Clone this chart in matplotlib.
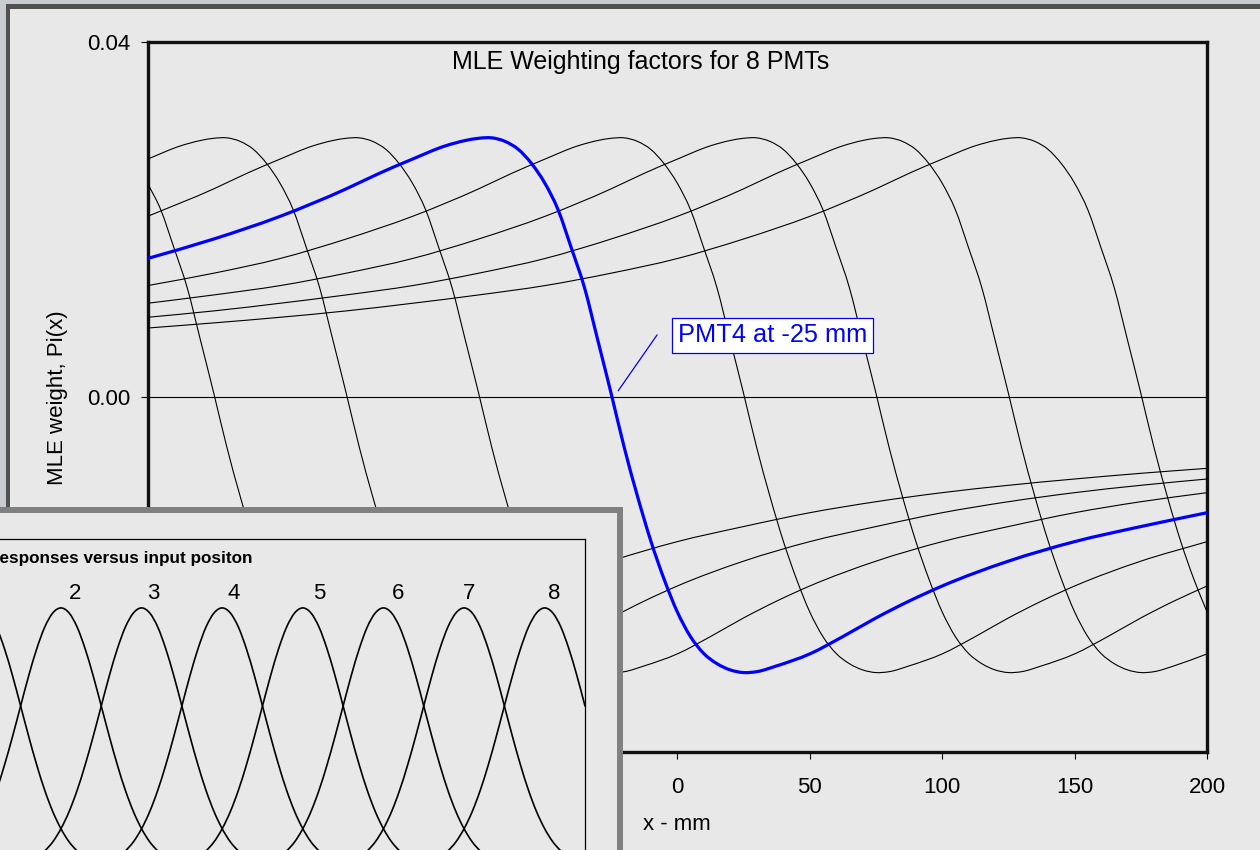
import matplotlib
matplotlib.use("Agg")
import matplotlib.pyplot as plt
from matplotlib.patches import Rectangle, PathPatch
from matplotlib.path import Path
import numpy as np

plt.rcParams["font.family"] = ["Liberation Sans", "DejaVu Sans"]

# PMT centre positions along the bar (mm)
pmt_centres = [-175, -125, -75, -25, 25, 75, 125, 175]
highlight = 3  # PMT4, drawn in blue

# MLE weight P(x - centre)
weight_offset = [-375, -350, -325, -300, -275, -250, -225, -200, -175, -150,
                 -125, -100, -87.5, -75, -62.5, -55, -50, -45, -40, -35,
                 -30, -25, -20, -15, -10, -5, 0, 5, 10, 15,
                 20, 25, 30, 35, 40, 45, 50, 55, 62.5, 75,
                 87.5, 100, 112.5, 125, 150, 175, 200, 225, 250, 275,
                 300, 325, 350, 375]
weight_value = [0.00777, 0.00835, 0.00898, 0.00970, 0.01056, 0.01150, 0.01255, 0.01395, 0.01560, 0.01780,
                0.02035, 0.02345, 0.02520, 0.02680, 0.02830, 0.02890, 0.02915, 0.02920, 0.02880, 0.02790,
                0.02630, 0.02410, 0.02110, 0.01680, 0.01230, 0.00640, 0.00045, -0.00570, -0.01120, -0.01620,
                -0.02050, -0.02420, -0.02700, -0.02890, -0.03005, -0.03075, -0.03105, -0.03095, -0.03030, -0.02895,
                -0.02700, -0.02490, -0.02300, -0.02130, -0.01850, -0.01630, -0.01460, -0.01304, -0.01180, -0.01078,
                -0.00995, -0.00924, -0.00860, -0.00804]

# single PMT response versus offset from its centre (relative units)
resp_offset = list(range(-100, 105, 5))
resp_value = [0.0005, 0.001, 0.002, 0.004, 0.008, 0.014, 0.025, 0.041, 0.066, 0.101,
              0.151, 0.216, 0.298, 0.396, 0.506, 0.623, 0.739, 0.843, 0.927, 0.981,
              1.0,
              0.981, 0.927, 0.843, 0.739, 0.623, 0.506, 0.396, 0.298, 0.216, 0.151,
              0.101, 0.066, 0.041, 0.025, 0.014, 0.008, 0.004, 0.002, 0.001, 0.0005]

resp_labels = ["2", "3", "4", "5", "6", "7", "8"]
resp_label_x = [-116, -68, -18, 35, 84, 128, 181]
resp_label_y = 1.054

x_ticks = [-200, -150, -100, -50, 0, 50, 100, 150, 200]
y_ticks = [-0.04, 0.0, 0.04]

W, H = 1260, 850
BG = "#e8e8e8"


def px_axes(left, top, right, bottom):
    return [left / W, 1 - bottom / H, (right - left) / W, (bottom - top) / H]


def smooth_line(ax, x, y, **kw):
    # Excel-style smoothed line: cubic Hermite segments through the points
    x = np.asarray(x, float)
    y = np.asarray(y, float)
    m = np.gradient(y, x)
    verts = [(x[0], y[0])]
    codes = [Path.MOVETO]
    for i in range(len(x) - 1):
        h = x[i + 1] - x[i]
        verts += [(x[i] + h / 3, y[i] + m[i] * h / 3),
                  (x[i + 1] - h / 3, y[i + 1] - m[i + 1] * h / 3),
                  (x[i + 1], y[i + 1])]
        codes += [Path.CURVE4] * 3
    ax.add_patch(PathPatch(Path(verts, codes), fill=False, capstyle="round",
                           joinstyle="round", **kw))


fig = plt.figure(figsize=(W / 100, H / 100), dpi=100, facecolor=BG)

# window frame strips along top and left
for r in [Rectangle((0, 1 - 4 / H), 1, 4 / H, color="#c8ccd0"),
          Rectangle((0, 1 - 9 / H), 1, 5 / H, color="#505050"),
          Rectangle((0, 0), 6 / W, 1, color="#c8ccd0"),
          Rectangle((6 / W, 0), 4 / W, 1 - 4 / H, color="#505050")]:
    r.set_transform(fig.transFigure)
    r.set_linewidth(0)
    r.set_zorder(-5)
    fig.add_artist(r)

# ---- main chart
ax = fig.add_axes(px_axes(147.5, 42, 1207, 752))
ax.set_facecolor(BG)
d = np.array(weight_offset)
w = np.array(weight_value)
for i, c in enumerate(pmt_centres):
    x = c + d
    keep = (x >= -200) & (x <= 200)
    if i == highlight:
        smooth_line(ax, x[keep], w[keep], edgecolor="#0000ff", lw=2.3, zorder=4)
    else:
        smooth_line(ax, x[keep], w[keep], edgecolor="black", lw=0.8, zorder=3)
ax.axhline(0, color="black", lw=0.8, zorder=2)

ax.set_xlim(-200, 200)
ax.set_ylim(-0.04, 0.04)
ax.set_xticks(x_ticks)
ax.set_yticks(y_ticks)
ax.set_yticklabels([f"{v:.2f}" for v in y_ticks])
ax.tick_params(axis="both", direction="out", length=5, width=0.8, labelsize=16, colors="black")
ax.tick_params(axis="x", pad=13)
ax.tick_params(axis="y", pad=7)
for s in ax.spines.values():
    s.set_linewidth(2.4)
    s.set_color("#111111")

ax.text(0.465, 0.972, "MLE Weighting factors for 8 PMTs", transform=ax.transAxes,
        ha="center", va="center", fontsize=18)
ax.annotate("", xy=(-22.3, 0.0007), xytext=(-7.6, 0.0070),
            arrowprops=dict(arrowstyle="-", color="#0000ff", lw=0.9, shrinkA=0, shrinkB=0))
ax.text(35.9, 0.00693, "PMT4 at -25 mm", color="#0000ff", fontsize=18.3, ha="center", va="center",
        bbox=dict(boxstyle="square,pad=0.22", fc="white", ec="#0000ff", lw=0.9), zorder=6)

fig.text(57 / W, 1 - 398 / H, "MLE weight, Pi(x)", rotation=90, ha="center", va="center", fontsize=16)
fig.text(677 / W, 1 - 825 / H, "x - mm", ha="center", va="center", fontsize=16)

# ---- inset panel with the PMT responses
panel = fig.add_axes(px_axes(-20, 510, 620, 900))
panel.set_facecolor(BG)
panel.set_xticks([])
panel.set_yticks([])
for s in panel.spines.values():
    s.set_linewidth(4.3)
    s.set_color("#808080")

ins = fig.add_axes(px_axes(-60, 539, 585, 890))
ins.set_facecolor("none")
ro = np.array(resp_offset)
rv = np.array(resp_value)
for c in pmt_centres:
    x = c + ro
    keep = (x >= -200) & (x <= 200)
    smooth_line(ins, x[keep], rv[keep], edgecolor="black", lw=1.2)
for lab, lx in zip(resp_labels, resp_label_x):
    ins.text(lx, resp_label_y, lab, ha="center", va="center", fontsize=16)
ins.set_xlim(-200, 200)
ins.set_ylim(-0.0846, 1.265)
ins.set_xticks([])
ins.set_yticks([])
for s in ins.spines.values():
    s.set_linewidth(0.9)
    s.set_color("black")

fig.text(252 / W, 1 - 558 / H, "PMT responses versus input positon", ha="right", va="center",
         fontsize=12.3, fontweight="bold")

fig.savefig("out.png", dpi=100, facecolor=BG)
